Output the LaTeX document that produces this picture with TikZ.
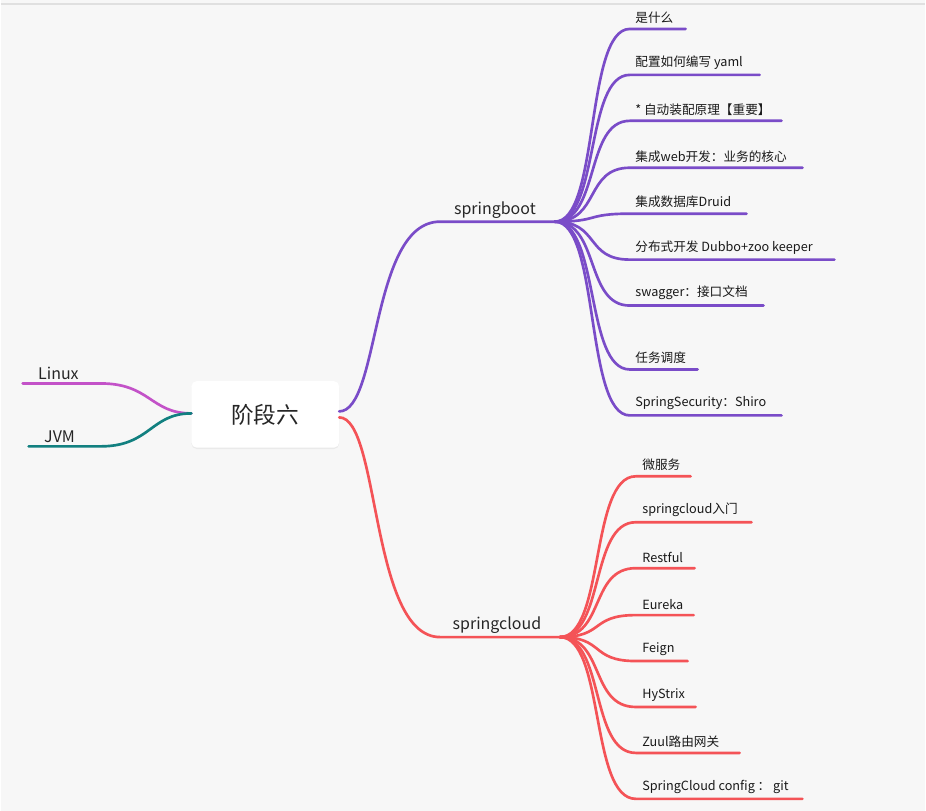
\documentclass[tikz,border=0pt]{standalone}
\usepackage{fontspec}
\usetikzlibrary{shadows}
\setmainfont{Noto Sans CJK SC}
\begin{document}
\begin{tikzpicture}[x=0.75pt,y=-0.75pt,
  lbl/.style={anchor=south west,inner sep=1pt,font=\fontsize{9.5pt}{11pt}\selectfont,text=black!90},
  blbl/.style={anchor=south,inner sep=1pt,font=\fontsize{12pt}{14pt}\selectfont,text=black!85},
  ln/.style={line width=2pt,line cap=round}]
\definecolor{bg}{HTML}{F7F7F7}
\definecolor{sb}{HTML}{7A4CC8}
\definecolor{sc}{HTML}{F45357}
\definecolor{lx}{HTML}{C352C8}
\definecolor{jv}{HTML}{128080}
\fill[bg] (0,0) rectangle (926,812);
\draw[black!12,line width=1pt] (0,4) -- (926,4);
\node[fill=white,rounded corners=4pt,minimum width=111pt,minimum height=50pt,font=\fontsize{17pt}{20pt}\selectfont,text=black!85,drop shadow={opacity=0.1,shadow xshift=0pt,shadow yshift=-1pt}] (c) at (265,415) {阶段六};
% left
\coordinate (cl) at (191,414);
\coordinate (lx) at (22,384);
\coordinate (jv) at (28,447);
\node[blbl,anchor=south west] (lxl) at (36,382) {Linux};
\node[blbl,anchor=south west] (jvl) at (42,445) {JVM};
\draw[ln,lx] (cl) .. controls (150,414) and (150,384) .. (100,384) -- (lx);
\draw[ln,jv] (cl) .. controls (150,414) and (150,447) .. (100,447) -- (jv);
% springboot
\coordinate (cr1) at (339,412);
\coordinate (sbm) at (440,222);
\coordinate (sbe) at (555,222);
\draw[ln,sb] (cr1) .. controls (380,412) and (370,222) .. (sbm) -- (sbe);
\node[blbl] (sbl) at (495,220) {springboot};
\foreach \i/\y/\xe/\t in {1/29/686/是什么,2/75/760/配置如何编写 yaml,3/121/782/* 自动装配原理【重要】,4/168/803/集成web开发：业务的核心,5/214/747/集成数据库Druid,6/260/835/分布式开发 Dubbo+zoo keeper,7/306/764/swagger：接口文档,8/370/698/任务调度,9/416/782/SpringSecurity：Shiro}{
  \coordinate (sbs\i) at (630,\y);
  \coordinate (sbx\i) at (\xe,\y);
  \node[lbl] (sbt\i) at (634,\y-4) {\t};
  \draw[ln,sb] (sbe) .. controls (600,222) and (585,\y) .. (sbs\i) -- (sbx\i);
}
% springcloud
\coordinate (cr2) at (339,418);
\coordinate (scm) at (440,638);
\coordinate (sce) at (560,638);
\draw[ln,sc] (cr2) .. controls (380,418) and (370,638) .. (scm) -- (sce);
\node[blbl] (scl) at (497,636) {springcloud};
\foreach \i/\y/\xe/\t in {1/477/691/微服务,2/523/752/springcloud入门,3/569/695/Restful,4/616/694/Eureka,5/662/688/Feign,6/708/696/HyStrix,7/754/740/Zuul路由网关,8/800/803/SpringCloud config ： git}{
  \coordinate (scs\i) at (636,\y);
  \coordinate (scx\i) at (\xe,\y);
  \node[lbl] (sct\i) at (641,\y-4) {\t};
  \draw[ln,sc] (sce) .. controls (605,638) and (590,\y) .. (scs\i) -- (scx\i);
}
\end{tikzpicture}
\end{document}
